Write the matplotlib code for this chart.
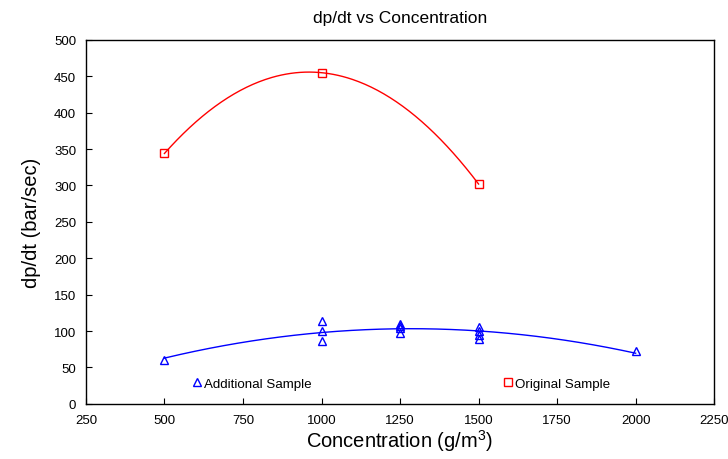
import numpy as np
import matplotlib as mpl
import matplotlib.pyplot as plt

mpl.rcParams['font.family'] = ['Liberation Sans', 'DejaVu Sans']
mpl.rcParams['mathtext.fontset'] = 'custom'
mpl.rcParams['mathtext.rm'] = 'Liberation Sans'

# Original sample (red squares)
orig_conc = [500, 1000, 1500]
orig_rate = [344, 455, 302]

# Additional sample (blue triangles)
add_conc = [500, 1000, 1000, 1000, 1250, 1250, 1250, 1250,
            1500, 1500, 1500, 1500, 2000]
add_rate = [60, 114, 100, 86, 110, 107, 104, 97,
            105, 100, 94, 89, 73]

fig = plt.figure(figsize=(7.28, 4.60), dpi=100)
ax = fig.add_axes([0.118, 0.12, 0.863, 0.791])

# quadratic fits, as in the original
for xs, ys, col in [(orig_conc, orig_rate, 'red'), (add_conc, add_rate, 'blue')]:
    coef = np.polyfit(xs, ys, 2)
    xx = np.linspace(min(xs), max(xs), 200)
    ax.plot(xx, np.polyval(coef, xx), color=col, lw=1.0)

l1, = ax.plot(add_conc, add_rate, linestyle='none', marker='^', ms=6,
              mfc='none', mec='blue', mew=1.0, label='Additional Sample')
l2, = ax.plot(orig_conc, orig_rate, linestyle='none', marker='s', ms=6,
              mfc='none', mec='red', mew=1.0, label='Original Sample')

ax.set_xlim(250, 2250)
ax.set_ylim(0, 500)
ax.set_xticks(np.arange(250, 2251, 250))
ax.set_yticks(np.arange(0, 501, 50))
ax.tick_params(direction='in', length=4, width=0.8, labelsize=9.5, pad=7)
for s in ax.spines.values():
    s.set_linewidth(1.0)

ax.set_title('dp/dt vs Concentration', fontsize=12.5, pad=13)
ax.set_xlabel('Concentration (g/m$^3$)', fontsize=14.5, labelpad=1)
ax.set_ylabel('dp/dt (bar/sec)', fontsize=14.5, labelpad=9)

leg1 = ax.legend(handles=[l1], loc='center left', bbox_to_anchor=(0.171, 0.055),
                 frameon=False, fontsize=9.6, handlelength=0.6, handletextpad=0.2,
                 borderpad=0, borderaxespad=0)
ax.add_artist(leg1)
ax.legend(handles=[l2], loc='center left', bbox_to_anchor=(0.666, 0.055),
          frameon=False, fontsize=9.6, handlelength=0.6, handletextpad=0.2,
          borderpad=0, borderaxespad=0)

fig.savefig('out.png', dpi=100)
